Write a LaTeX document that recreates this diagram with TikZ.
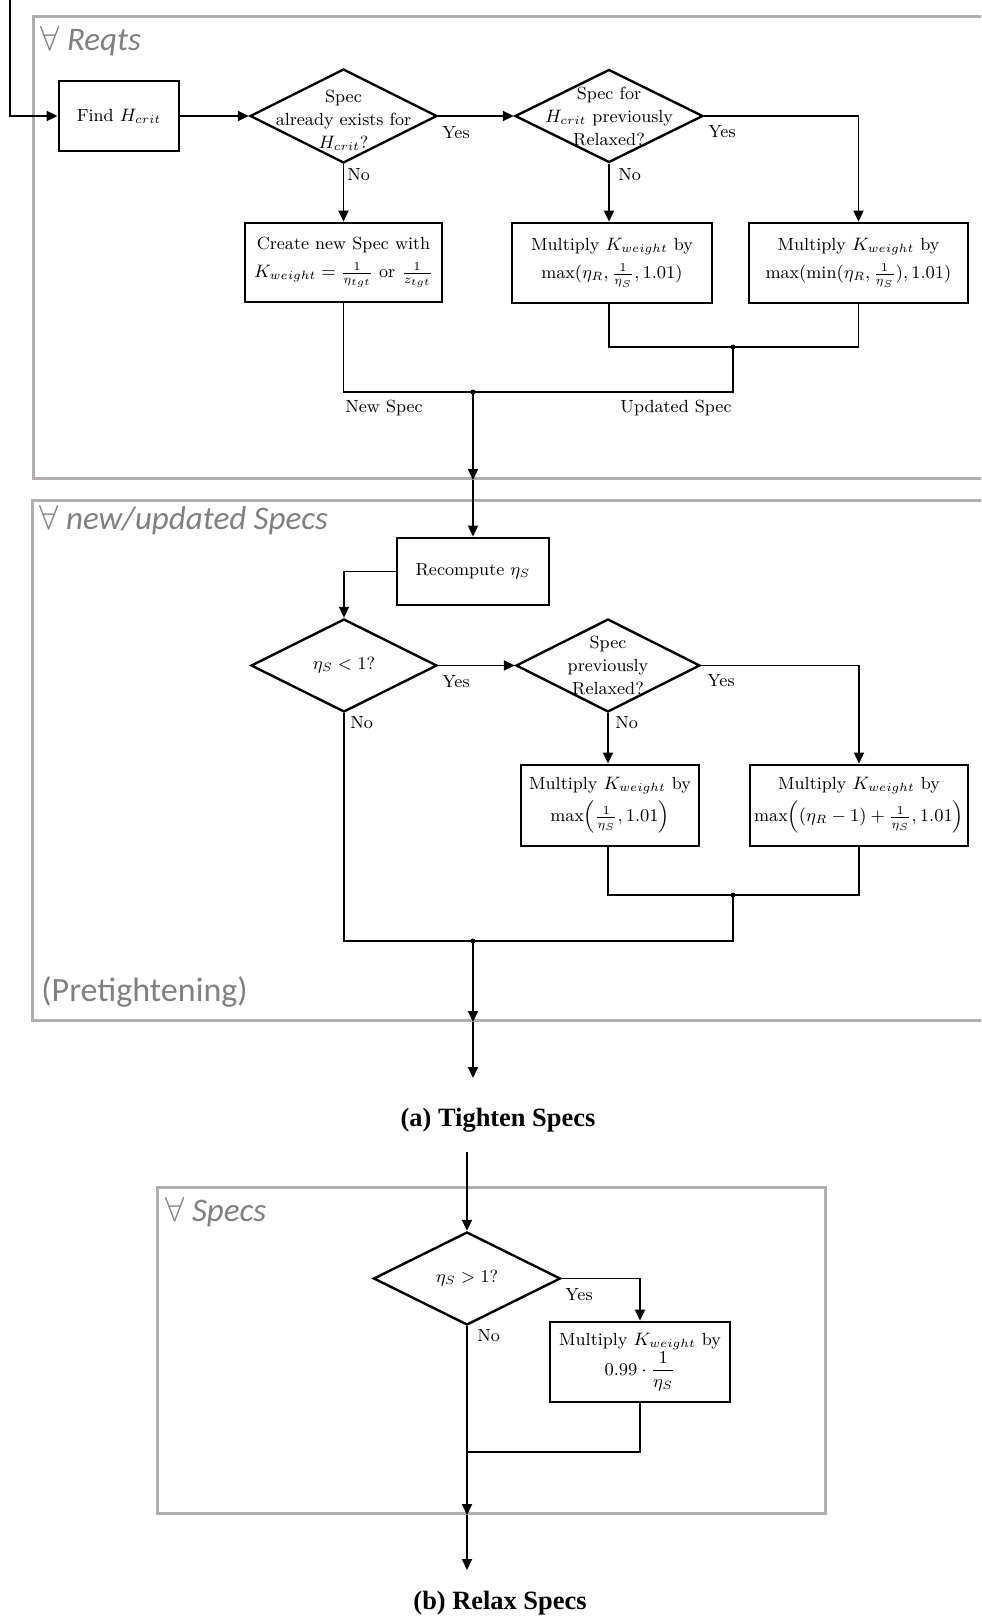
\documentclass[tikz,border=0pt]{standalone}
\usepackage{amsmath}
\usepackage{fontspec}
\usetikzlibrary{shapes.geometric,arrows.meta,calc}
\newfontfamily\grpfont{Carlito}
\newfontfamily\capfont{Liberation Serif}
\definecolor{grpline}{RGB}{178,174,175}
\definecolor{grptext}{RGB}{128,128,128}

\begin{document}
\begin{tikzpicture}[x=0.5pt,y=-0.5pt,
  every node/.style={font=\fontsize{8.8}{11.5}\selectfont},
  box/.style={draw, line width=1.4pt, inner sep=0pt, align=center},
  dia/.style={draw, diamond, line width=1.2pt, inner sep=0pt},
  dtext/.style={align=center, inner sep=0pt},
  link/.style={line width=0.9pt},
  arr/.style={link, -{Triangle[length=5.5pt,width=5pt]}},
  grp/.style={draw=grpline, line width=1.5pt, anchor=north west, inner sep=0pt},
  grplabel/.style={text=grptext, font=\grpfont\fontsize{16.5}{19}\selectfont, anchor=base west, inner sep=0pt},
  lbl/.style={inner sep=0pt, anchor=west},
  dot/.style={circle, fill, inner sep=0pt, minimum size=2.5pt},
  figcaption/.style={font=\capfont\bfseries\fontsize{13.2}{15}\selectfont}
]
\clip (0,0) rectangle (981,1618);

% loop frames
\node[grp, minimum width=481.5pt, minimum height=231pt] (g1) at (32,15) {};
\node[grp, minimum width=482pt, minimum height=260pt] (g2) at (31,499) {};
\node[grp, minimum width=334pt, minimum height=163pt] (g3) at (156,1186) {};
\node[grplabel] (g1l) at (40,50) {$\forall$ \textit{Reqts}};
\node[grplabel] (g2l) at (39,529) {$\forall$ \textit{new/updated Specs}};
\node[grplabel, font=\grpfont\fontsize{17}{19}\selectfont] (g2n) at (41,1001) {(Pretightening)};
\node[grplabel] (g3l) at (165,1221) {$\forall$ \textit{Specs}};

% (a) tighten specs
\node[box, minimum width=60pt, minimum height=35pt] (find) at (119,116) {Find $H_{crit}$};
\node[dia, minimum width=93.5pt, minimum height=47pt] (d1) at (343.5,116) {};
\node[dtext, yshift=-2pt] (d1t) at (d1.center) {Spec\\already exists for\\$H_{crit}$?};
\node[dia, minimum width=94pt, minimum height=46.5pt] (d2) at (609,116) {};
\node[dtext] (d2t) at (d2.center) {Spec for\\$H_{crit}$ previously\\Relaxed?};
\node[box, minimum width=98.5pt, minimum height=39.5pt] (create) at (343.5,262.5)
  {Create new Spec with\\[2.5pt]$K_{weight}=\frac{1}{\eta_{tgt}}$ or $\frac{1}{z_{tgt}}$};
\node[box, minimum width=100pt, minimum height=40pt] (m1) at (612,263)
  {Multiply $K_{weight}$ by\\[2.5pt]$\max(\eta_R,\frac{1}{\eta_S},1.01)$};
\node[box, minimum width=109.5pt, minimum height=40pt] (m2) at (858.5,263)
  {Multiply $K_{weight}$ by\\[2.5pt]$\max(\min(\eta_R,\frac{1}{\eta_S}),1.01)$};

\coordinate (in) at (10,0);
\coordinate (j1) at (733,347);
\coordinate (j2) at (473,392);

\draw[arr] (in) |- (find.west);
\draw[arr] (find.east) -- (d1.west);
\draw[arr] (d1.east) -- (d2.west);
\draw[arr] (d1.south) -- (create.north);
\draw[arr] (d2.south) -- (d2.south |- m1.north);
\draw[arr] (d2.east) -| (m2.north);
\draw[link] (d2.south |- m1.south) |- (j1) -| (m2.south);
\draw[link] (create.south) |- (j2) -| (j1);
\node[dot] (j1d) at (j1) {};
\node[dot] (j2d) at (j2) {};

\node[lbl] (y1) at (442,133) {Yes};
\node[lbl] (n1) at (347,175) {No};
\node[lbl] (y2) at (708,132) {Yes};
\node[lbl] (n2) at (618,175) {No};
\node (ns) at (384,408) {New Spec};
\node (us) at (676,408) {Updated Spec};

\node[box, minimum width=76pt, minimum height=33.5pt] (rec) at (473,571.5) {Recompute $\eta_S$};
\node[dia, minimum width=93pt, minimum height=46.5pt] (d3) at (344,665.5) {};
\node[dtext] (d3t) at (d3.center) {$\eta_S<1$?};
\node[dia, minimum width=92pt, minimum height=46.5pt] (d4) at (608,665.5) {};
\node[dtext] (d4t) at (d4.center) {Spec\\previously\\Relaxed?};
\node[box, minimum width=89pt, minimum height=40.5pt] (m3) at (610,805.5)
  {Multiply $K_{weight}$ by\\[2.5pt]$\mathrm{max}\!\left(\frac{1}{\eta_S},1.01\right)$};
\node[box, minimum width=109pt, minimum height=40.5pt] (m4) at (859,805.5)
  {Multiply $K_{weight}$ by\\[2.5pt]$\mathrm{max}\!\left((\eta_R-1)+\frac{1}{\eta_S},1.01\right)$};

\coordinate (x1) at (j2 |- g1.south);
\coordinate (j3) at (733,895);
\coordinate (j4) at (473,941);
\coordinate (x2) at (j4 |- g2.south);
\coordinate (out1) at (473,1078);

\draw[arr] (j2) -- (x1);
\draw[arr] (x1) -- (j2 |- rec.north);
\draw[arr] (rec.west) -| (d3.north);
\draw[arr] (d3.east) -- (d4.west);
\draw[arr] (d4.south) -- (d4.south |- m3.north);
\draw[arr] (d4.east) -| (m4.north);
\draw[link] (d4.south |- m3.south) |- (j3) -| (m4.south);
\draw[link] (d3.south) |- (j4) -| (j3);
\draw[arr] (j4) -- (x2);
\draw[arr] (x2) -- (out1);
\node[dot] (j3d) at (j3) {};
\node[dot] (j4d) at (j4) {};

\node[lbl] (y3) at (442,682) {Yes};
\node[lbl] (n3) at (350,723) {No};
\node[lbl] (y4) at (707,681) {Yes};
\node[lbl] (n4) at (615,723) {No};

\node[figcaption] (capa) at (498,1120) {(a) Tighten Specs};

% (b) relax specs
\node[dia, minimum width=93.5pt, minimum height=46.5pt] (d5) at (467,1278.5) {};
\node[dtext] (d5t) at (d5.center) {$\eta_S>1$?};
\node[box, minimum width=90pt, minimum height=40pt] (m5) at (640,1362)
  {Multiply $K_{weight}$ by\\[0pt]$0.99\cdot\dfrac{1}{\eta_S}$};

\coordinate (in2) at (467,1152);
\coordinate (j5) at (467,1452);
\coordinate (x3) at (d5.south |- g3.south);
\coordinate (out2) at (467,1570);

\draw[arr] (in2) -- (d5.north);
\draw[arr] (d5.east) -| (m5.north);
\draw[link] (m5.south) |- (j5);
\draw[arr] (d5.south) -- (x3);
\draw[arr] (x3) -- (out2);

\node[lbl] (y5) at (565,1295) {Yes};
\node[lbl] (n5) at (477,1336) {No};

\node[figcaption] (capb) at (500,1603) {(b) Relax Specs};
\end{tikzpicture}
\end{document}
